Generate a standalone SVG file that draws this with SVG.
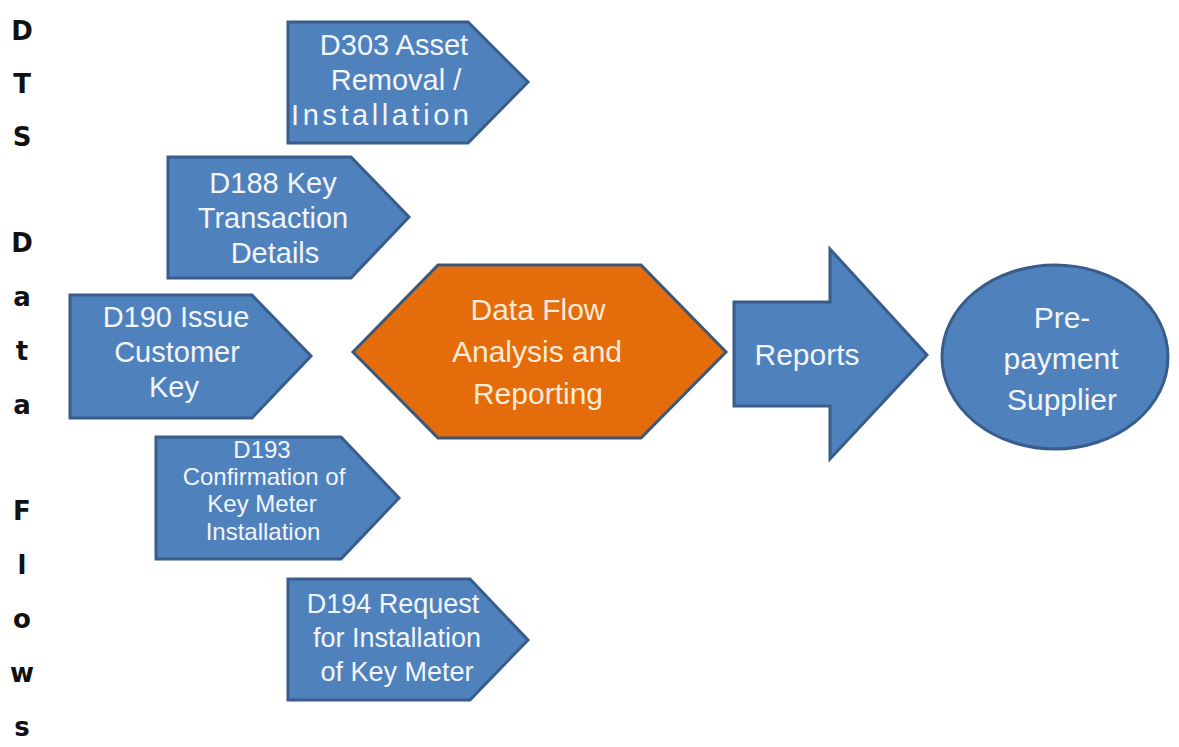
<svg xmlns="http://www.w3.org/2000/svg" width="1179" height="747" viewBox="0 0 1179 747">
<style>
.shape{fill:#4f81bd;stroke:#385d8a;stroke-width:3;stroke-linejoin:miter}
.hex{fill:#e46c0a;stroke:#3b5878;stroke-width:3}
.t{font-family:"Liberation Sans",Arial,sans-serif;fill:#f2f5fa;text-anchor:middle;font-size:29px}
.ts{font-size:24px}
.tm{font-size:27px}
.th{fill:#fcebd9;font-size:30px}
.side{font-family:"DejaVu Sans",sans-serif;font-weight:bold;font-size:26px;fill:#111;text-anchor:middle}
</style>
<rect width="1179" height="747" fill="#ffffff"/>
<g id="side-label">
<text class="side" x="22" y="40">D</text>
<text class="side" x="22" y="93">T</text>
<text class="side" x="22" y="146">S</text>
<text class="side" x="22" y="252">D</text>
<text class="side" x="22" y="306">a</text>
<text class="side" x="22" y="360">t</text>
<text class="side" x="22" y="414">a</text>
<text class="side" x="22" y="520">F</text>
<text class="side" x="22" y="574">l</text>
<text class="side" x="22" y="628">o</text>
<text class="side" x="22" y="682">w</text>
<text class="side" x="22" y="736">s</text>
</g>
<g id="d303">
<path class="shape" d="M288,22 H468 L528,82 L468,143 H288 Z"/>
<text class="t" x="394" y="55">D303 Asset</text>
<text class="t" x="396" y="90">Removal /</text>
<text class="t" x="380" y="125" textLength="178" lengthAdjust="spacing">Installation</text>
</g>
<g id="d188">
<path class="shape" d="M168,157 H351 L409,217 L351,278 H168 Z"/>
<text class="t" x="273" y="193">D188 Key</text>
<text class="t" x="273" y="228">Transaction</text>
<text class="t" x="275" y="263">Details</text>
</g>
<g id="d190">
<path class="shape" d="M70,295 H252 L311,356 L252,418 H70 Z"/>
<text class="t" x="176" y="327">D190 Issue</text>
<text class="t" x="177" y="362">Customer</text>
<text class="t" x="174" y="397">Key</text>
</g>
<g id="d193">
<path class="shape" d="M156,437 H341 L399,498 L341,559 H156 Z"/>
<text class="t ts" x="262" y="458">D193</text>
<text class="t ts" x="264" y="485">Confirmation of</text>
<text class="t ts" x="262" y="512">Key Meter</text>
<text class="t ts" x="263" y="540">Installation</text>
</g>
<g id="d194">
<path class="shape" d="M288,579 H470 L528,640 L470,700 H288 Z"/>
<text class="t tm" x="393" y="613">D194 Request</text>
<text class="t tm" x="397" y="647">for Installation</text>
<text class="t tm" x="397" y="681">of Key Meter</text>
</g>
<g id="analysis">
<path class="hex" d="M353,352 L438,265 H641 L726,352 L641,438 H438 Z"/>
<text class="t th" x="538" y="320">Data Flow</text>
<text class="t th" x="537" y="362">Analysis and</text>
<text class="t th" x="538" y="404">Reporting</text>
</g>
<g id="connectors">
<g id="reports">
<path class="shape" d="M734,302 H830 V249 L927,355 L830,459 V406 H734 Z"/>
<text class="t" x="807" y="365" style="font-size:30px">Reports</text>
</g>
</g>
<g id="supplier">
<ellipse class="shape" cx="1055" cy="357" rx="113" ry="92"/>
<text class="t" x="1062" y="328" style="font-size:30px">Pre-</text>
<text class="t" x="1061" y="369" style="font-size:30px">payment</text>
<text class="t" x="1062" y="410" style="font-size:30px">Supplier</text>
</g>
</svg>
